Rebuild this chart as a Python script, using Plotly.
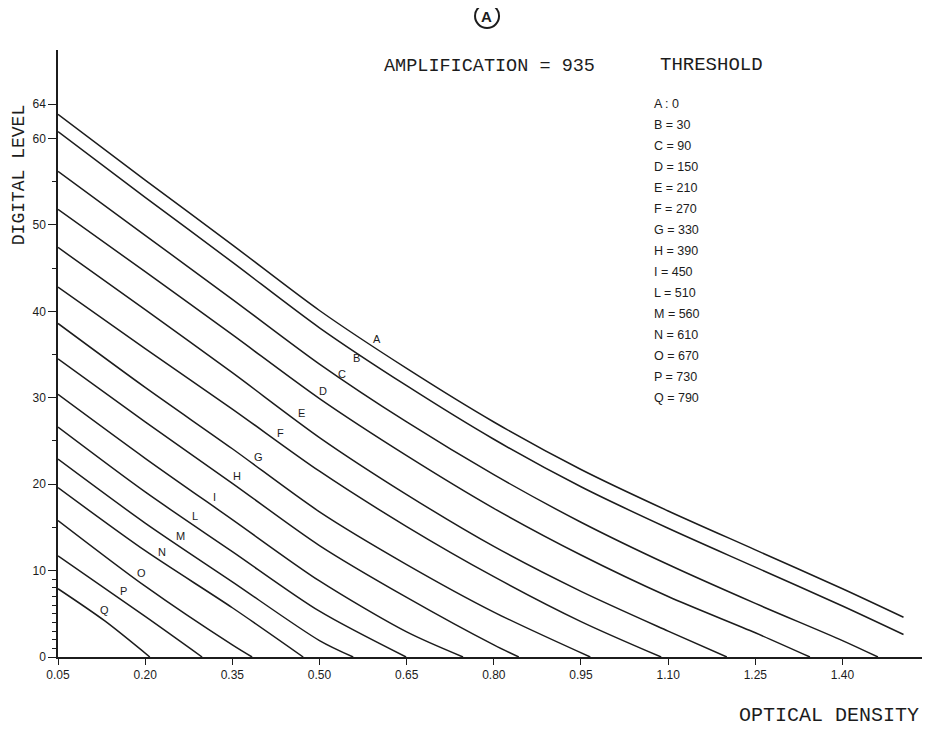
import numpy as np
import plotly.graph_objects as go

# ---------------- data ----------------
curve_names = ["A", "B", "C", "D", "E", "F", "G", "H", "I", "L", "M", "N", "O", "P", "Q"]
thresholds = [0, 30, 90, 150, 210, 270, 330, 390, 450, 510, 560, 610, 670, 730, 790]
amplification = 935

od_A = [0.05, 0.20, 0.35, 0.50, 0.65, 0.80, 0.95, 1.10, 1.25, 1.40, 1.505]
lvl_A = [62.8, 55.2, 47.7, 40.1, 33.4, 27.2, 21.7, 16.9, 12.4, 7.9, 4.6]
od_B = [0.05, 0.20, 0.35, 0.50, 0.65, 0.80, 0.95, 1.10, 1.25, 1.40, 1.505]
lvl_B = [60.8, 53.2, 45.7, 38.1, 31.4, 25.2, 19.7, 14.9, 10.4, 5.9, 2.6]
od_C = [0.05, 0.20, 0.35, 0.50, 0.65, 0.80, 0.95, 1.10, 1.25, 1.40, 1.461]
lvl_C = [56.2, 48.8, 41.4, 33.9, 27.2, 21.1, 15.6, 10.7, 6.2, 1.9, 0]
od_D = [0.05, 0.20, 0.35, 0.50, 0.65, 0.80, 0.95, 1.10, 1.25, 1.344]
lvl_D = [51.8, 44.6, 37.3, 29.9, 23.3, 17.2, 11.8, 7.0, 2.8, 0]
od_E = [0.05, 0.20, 0.35, 0.50, 0.65, 0.80, 0.95, 1.10, 1.201]
lvl_E = [47.4, 40.2, 32.9, 25.4, 18.8, 12.8, 7.6, 3.0, 0]
od_F = [0.05, 0.20, 0.35, 0.50, 0.65, 0.80, 0.95, 1.088]
lvl_F = [42.8, 35.7, 28.7, 21.5, 15.1, 9.3, 4.1, 0]
od_G = [0.05, 0.20, 0.35, 0.50, 0.65, 0.80, 0.966]
lvl_G = [38.6, 31.2, 24.1, 16.8, 10.7, 5.2, 0]
od_H = [0.05, 0.20, 0.35, 0.50, 0.65, 0.80, 0.843]
lvl_H = [34.5, 27.2, 20.1, 12.9, 6.9, 1.4, 0]
od_I = [0.05, 0.20, 0.35, 0.50, 0.65, 0.747]
lvl_I = [30.4, 23.0, 15.9, 8.8, 2.9, 0]
od_L = [0.05, 0.20, 0.35, 0.50, 0.649]
lvl_L = [26.6, 19.1, 12.2, 5.3, 0]
od_M = [0.05, 0.20, 0.35, 0.50, 0.558]
lvl_M = [22.9, 15.5, 8.7, 1.9, 0]
od_N = [0.05, 0.20, 0.35, 0.472]
lvl_N = [19.6, 12.3, 5.7, 0]
od_O = [0.05, 0.20, 0.35, 0.384]
lvl_O = [15.8, 8.2, 1.4, 0]
od_P = [0.05, 0.20, 0.298]
lvl_P = [11.7, 4.7, 0]
od_Q = [0.05, 0.13, 0.208]
lvl_Q = [7.9, 4.2, 0]

# optical density where each curve's letter is written
label_od = [0.596, 0.561, 0.536, 0.503, 0.465, 0.430, 0.391, 0.355, 0.316,
            0.282, 0.257, 0.226, 0.191, 0.160, 0.126]

x_ticks = [0.05, 0.20, 0.35, 0.50, 0.65, 0.80, 0.95, 1.10, 1.25, 1.40]
y_ticks = [0, 10, 20, 30, 40, 50, 60, 64]
y_minor_ticks = [1, 2, 3, 4, 5, 6, 7, 8, 9, 15, 25, 35, 45, 55]

curves_od = [od_A, od_B, od_C, od_D, od_E, od_F, od_G, od_H, od_I, od_L, od_M, od_N, od_O, od_P, od_Q]
curves_lvl = [lvl_A, lvl_B, lvl_C, lvl_D, lvl_E, lvl_F, lvl_G, lvl_H, lvl_I, lvl_L, lvl_M, lvl_N, lvl_O, lvl_P, lvl_Q]

INK = "#1c1c1c"
SANS = "Liberation Sans, Arial, sans-serif"
MONO = "Liberation Mono, Courier New, monospace"

fig = go.Figure()
for name, xs, ys in zip(curve_names, curves_od, curves_lvl):
    fig.add_trace(go.Scatter(x=xs, y=ys, mode="lines", name=name,
                             line=dict(color=INK, width=1.5, shape="spline", smoothing=0.8),
                             showlegend=False, hoverinfo="skip"))

annotations = []
# curve letters
for name, xs, ys, lx in zip(curve_names, curves_od, curves_lvl, label_od):
    ly = float(np.interp(lx, xs, ys))
    shift = 9
    if name == "B":
        shift = -7
    elif name == "C":
        shift = 4
    annotations.append(dict(x=lx, y=ly, xref="x", yref="y", text=name, showarrow=False,
                            xanchor="center", yanchor="middle", xshift=2, yshift=shift,
                            font=dict(family=SANS, size=11, color=INK)))

# threshold table
for i, (name, t) in enumerate(zip(curve_names, thresholds)):
    sep = ":" if name == "A" else "="
    annotations.append(dict(x=0.685, y=0.911 - i * 0.0346, xref="paper", yref="paper",
                            text=f"{name} {sep} {t}", showarrow=False,
                            xanchor="left", yanchor="middle",
                            font=dict(family=SANS, size=12.5, color=INK)))

annotations += [
    dict(x=0.498, y=0.9736, xref="paper", yref="paper", text=f"AMPLIFICATION = {amplification}",
         showarrow=False, xanchor="center", yanchor="middle",
         font=dict(family=MONO, size=18.5, color=INK)),
    dict(x=0.754, y=0.975, xref="paper", yref="paper", text="THRESHOLD",
         showarrow=False, xanchor="center", yanchor="middle",
         font=dict(family=MONO, size=19, color=INK)),
    dict(x=-0.0448, y=0.794, xref="paper", yref="paper", text="DIGITAL LEVEL", textangle=-90,
         showarrow=False, xanchor="center", yanchor="middle",
         font=dict(family=MONO, size=18, color=INK)),
    dict(x=0.889, y=-0.0956, xref="paper", yref="paper", text="OPTICAL DENSITY",
         showarrow=False, xanchor="center", yanchor="middle",
         font=dict(family=MONO, size=20, color=INK)),
    dict(x=0.4948, y=1.056, xref="paper", yref="paper", text="<b>A</b>",
         showarrow=False, xanchor="center", yanchor="middle",
         font=dict(family=SANS, size=15, color=INK)),
]

# page body has an 8px margin: figure is 922x721 so the plot area lands where the reference's is
fig.update_layout(
    width=922, height=721,
    margin=dict(l=50, r=5, t=42, b=72),
    paper_bgcolor="white", plot_bgcolor="white",
    annotations=annotations,
    shapes=[dict(type="circle", xref="paper", yref="paper",
                 x0=0.481, x1=0.5087, y0=1.0362, y1=1.0758,
                 line=dict(color=INK, width=2))],
    xaxis=dict(range=[0.05, 1.542], tickmode="array", tickvals=x_ticks,
               ticktext=[f"{v:.2f}" for v in x_ticks],
               showline=True, linecolor=INK, linewidth=1.5, ticks="outside", ticklen=6,
               tickcolor=INK, showgrid=False, zeroline=False,
               tickfont=dict(family=SANS, size=12, color=INK)),
    yaxis=dict(range=[0, 70.25], tickmode="array", tickvals=y_ticks,
               showline=True, linecolor=INK, linewidth=1.5, ticks="outside", ticklen=8,
               tickcolor=INK, showgrid=False, zeroline=False,
               minor=dict(tickmode="array", tickvals=y_minor_ticks, ticks="outside",
                          ticklen=4, tickcolor=INK),
               tickfont=dict(family=SANS, size=12, color=INK)),
)

fig.write_html("out.html")
